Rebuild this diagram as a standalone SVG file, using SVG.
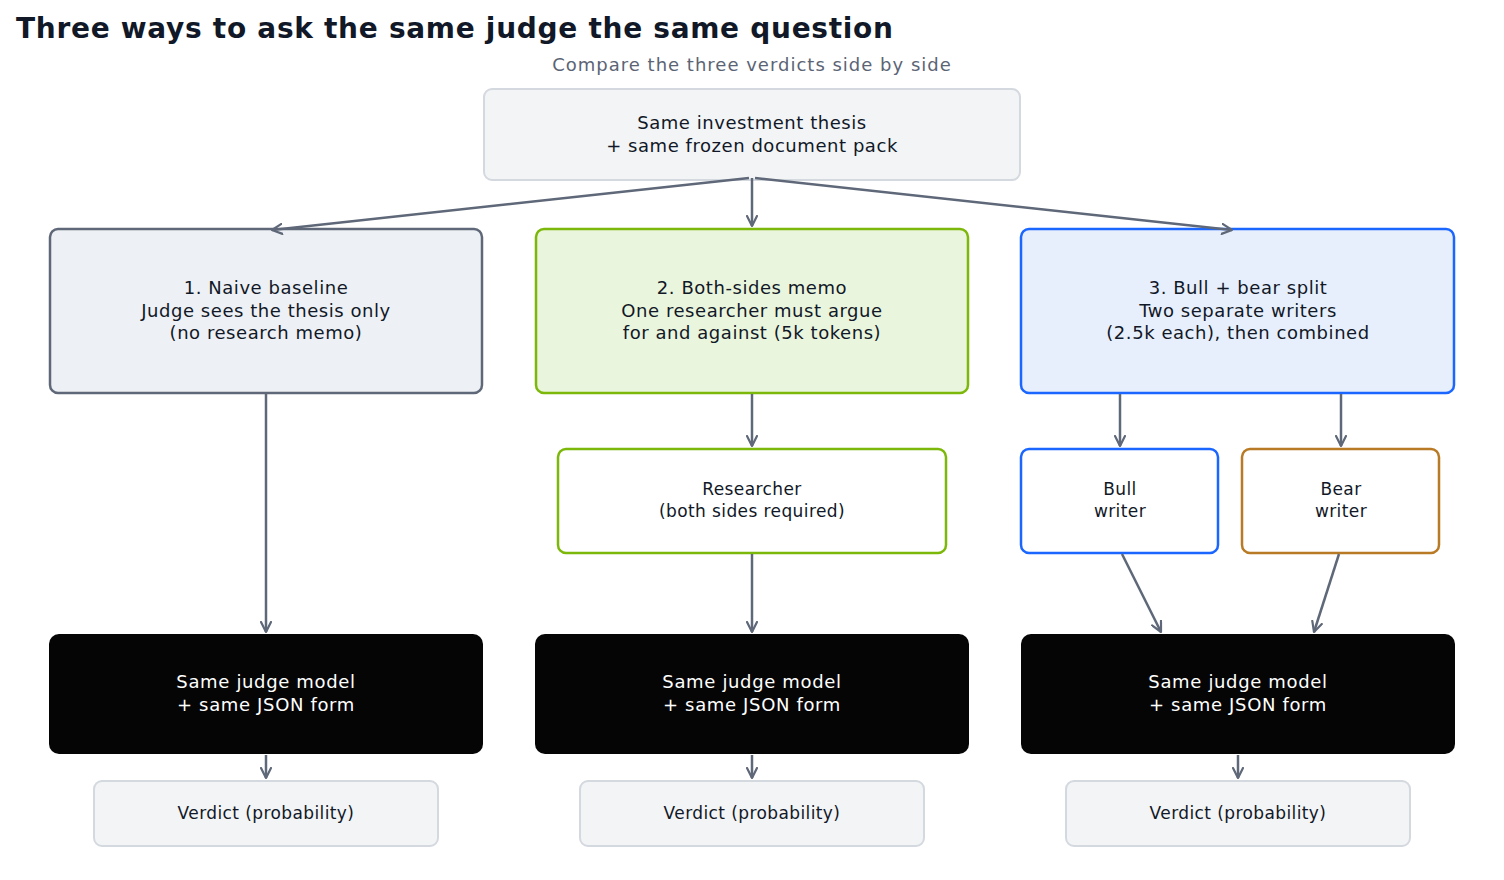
<svg xmlns="http://www.w3.org/2000/svg" width="1504" height="880" viewBox="0 0 1504 880">
<style>
text{font-family:"DejaVu Sans","Noto Sans",sans-serif;fill:#111827;text-anchor:middle}
.title{font-size:28px;font-weight:bold;text-anchor:start;fill:#111827;letter-spacing:0.7px}
.sub{font-size:18px;fill:#5b6474;letter-spacing:1px}
.t{font-size:18px;letter-spacing:0.55px}
.s{font-size:17px;letter-spacing:0.4px}
.w{font-size:18px;fill:#ffffff;letter-spacing:0.65px}
.gray{fill:#f3f4f6;stroke:#d4d8df;stroke-width:2}
.edge{stroke:#5f6878;stroke-width:2.5;fill:none}
</style>
<defs>
<marker id="ah" viewBox="0 0 12 12" refX="11" refY="6" markerWidth="12" markerHeight="12" markerUnits="userSpaceOnUse" orient="auto">
<path d="M1,1 L11,6 L1,11" fill="none" stroke="#5f6878" stroke-width="2.2" stroke-linecap="round" stroke-linejoin="round"/>
</marker>
</defs>
<rect width="1504" height="880" fill="#ffffff"/>
<text class="title" x="16" y="38">Three ways to ask the same judge the same question</text>
<text class="sub" x="752" y="71">Compare the three verdicts side by side</text>

<g id="input">
<rect class="gray" x="484" y="89" width="536" height="91" rx="8"/>
<text class="t" x="752" y="129">Same investment thesis</text>
<text class="t" x="752" y="152">+ same frozen document pack</text>
</g>

<g id="naive">
<rect x="50" y="229" width="432" height="164" rx="8" fill="#edf0f4" stroke="#5f6878" stroke-width="2.5"/>
<text class="t" x="266" y="294">1. Naive baseline</text>
<text class="t" x="266" y="317">Judge sees the thesis only</text>
<text class="t" x="266" y="339">(no research memo)</text>
</g>

<g id="bothsides">
<rect x="536" y="229" width="432" height="164" rx="8" fill="#eaf5dd" stroke="#7cb80a" stroke-width="2.5"/>
<text class="t" x="752" y="294">2. Both-sides memo</text>
<text class="t" x="752" y="317">One researcher must argue</text>
<text class="t" x="752" y="339">for and against (5k tokens)</text>
</g>

<g id="split">
<rect x="1021" y="229" width="433" height="164" rx="8" fill="#e8effc" stroke="#1a66ff" stroke-width="2.5"/>
<text class="t" x="1238" y="294">3. Bull + bear split</text>
<text class="t" x="1238" y="317">Two separate writers</text>
<text class="t" x="1238" y="339">(2.5k each), then combined</text>
</g>

<g id="researcher">
<rect x="558" y="449" width="388" height="104" rx="8" fill="#ffffff" stroke="#7cb80a" stroke-width="2.5"/>
<text class="s" x="752" y="495">Researcher</text>
<text class="s" x="752" y="517">(both sides required)</text>
</g>

<g id="bull">
<rect x="1021" y="449" width="197" height="104" rx="8" fill="#ffffff" stroke="#1a66ff" stroke-width="2.5"/>
<text class="s" x="1120" y="495">Bull</text>
<text class="s" x="1120" y="517">writer</text>
</g>

<g id="bear">
<rect x="1242" y="449" width="197" height="104" rx="8" fill="#ffffff" stroke="#b87a25" stroke-width="2.5"/>
<text class="s" x="1341" y="495">Bear</text>
<text class="s" x="1341" y="517">writer</text>
</g>

<g id="judge1">
<rect x="49" y="634" width="434" height="120" rx="10" fill="#050505"/>
<text class="w" x="266" y="688">Same judge model</text>
<text class="w" x="266" y="711">+ same JSON form</text>
</g>
<g id="judge2">
<rect x="535" y="634" width="434" height="120" rx="10" fill="#050505"/>
<text class="w" x="752" y="688">Same judge model</text>
<text class="w" x="752" y="711">+ same JSON form</text>
</g>
<g id="judge3">
<rect x="1021" y="634" width="434" height="120" rx="10" fill="#050505"/>
<text class="w" x="1238" y="688">Same judge model</text>
<text class="w" x="1238" y="711">+ same JSON form</text>
</g>

<g id="verdict1">
<rect class="gray" x="94" y="781" width="344" height="65" rx="8"/>
<text class="s" x="266" y="819">Verdict (probability)</text>
</g>
<g id="verdict2">
<rect class="gray" x="580" y="781" width="344" height="65" rx="8"/>
<text class="s" x="752" y="819">Verdict (probability)</text>
</g>
<g id="verdict3">
<rect class="gray" x="1066" y="781" width="344" height="65" rx="8"/>
<text class="s" x="1238" y="819">Verdict (probability)</text>
</g>

<g id="edges">
<path class="edge" d="M749,178 L272,230" marker-end="url(#ah)"/>
<path class="edge" d="M752,178 L752,226" marker-end="url(#ah)"/>
<path class="edge" d="M755,178 L1232,230" marker-end="url(#ah)"/>
<path class="edge" d="M266,394 L266,632" marker-end="url(#ah)"/>
<path class="edge" d="M752,394 L752,446" marker-end="url(#ah)"/>
<path class="edge" d="M752,554 L752,632" marker-end="url(#ah)"/>
<path class="edge" d="M1120,394 L1120,446" marker-end="url(#ah)"/>
<path class="edge" d="M1341,394 L1341,446" marker-end="url(#ah)"/>
<path class="edge" d="M1122,554 L1161,632" marker-end="url(#ah)"/>
<path class="edge" d="M1339,554 L1314,632" marker-end="url(#ah)"/>
<path class="edge" d="M266,755 L266,778" marker-end="url(#ah)"/>
<path class="edge" d="M752,755 L752,778" marker-end="url(#ah)"/>
<path class="edge" d="M1238,755 L1238,778" marker-end="url(#ah)"/>
</g>
</svg>
